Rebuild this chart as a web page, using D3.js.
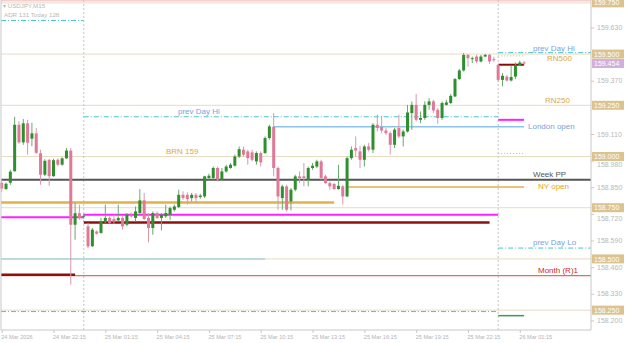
<!DOCTYPE html>
<html>
<head>
<meta charset="utf-8">
<script src="https://cdn.jsdelivr.net/npm/d3@7"></script>
<style>
  body { margin: 0; background: #fff; }
  svg { display: block; font-family: "Liberation Sans", Arial, sans-serif; }
</style>
</head>
<body>
<svg id="chart" width="625" height="343"></svg>
<script>
// USDJPY M15, bar 0 = 24 Mar 19:15
const opens = [
  158.872,158.841,158.872,158.928,159.155,159.069,159.162,159.087,159.113,159.016,
  158.911,158.984,158.904,158.984,158.960,158.991,159.029,158.667,158.723,158.706,
  158.659,158.562,158.634,158.627,158.683,158.700,158.695,158.688,158.700,158.667,
  158.716,158.700,158.724,158.786,158.700,158.651,158.724,158.700,158.708,158.716,
  158.740,158.753,158.813,158.813,158.797,158.813,158.802,158.805,158.895,158.895,
  158.944,158.887,158.927,158.944,158.955,159.000,159.033,159.025,159.020,158.976,
  159.017,159.017,159.090,159.145,158.944,158.797,158.854,158.781,158.838,158.903,
  158.903,158.887,158.944,158.951,158.976,158.903,158.870,158.866,158.841,158.854,
  158.805,158.992,159.041,159.025,158.984,159.049,159.033,159.155,159.144,159.127,
  159.114,159.057,159.139,159.098,159.122,159.212,159.252,159.179,159.188,159.252,
  159.269,159.228,159.188,159.252,159.261,159.293,159.378,159.420,159.496,159.475,
  159.488,159.464,159.488,159.496,159.475,159.447,159.374,159.390,159.371,159.390,
  159.447,159.459
];
const highs = [
  158.887,158.873,158.935,159.194,159.172,159.183,159.179,159.165,159.139,159.033,
  158.987,158.987,158.989,158.991,158.996,159.041,159.041,158.772,158.765,158.721,
  158.675,158.651,158.639,158.700,158.765,158.708,158.716,158.765,158.708,158.724,
  158.726,158.756,158.841,158.822,158.724,158.732,158.732,158.724,158.765,158.756,
  158.765,158.838,158.830,158.825,158.822,158.822,158.818,158.906,158.916,158.951,
  158.951,158.944,158.960,158.968,159.009,159.049,159.049,159.033,159.033,159.025,
  159.025,159.098,159.155,159.212,158.951,158.862,158.862,158.846,158.911,158.927,
  158.968,158.951,158.968,158.984,158.984,158.911,158.878,158.870,158.960,158.862,
  159.000,159.049,159.098,159.052,159.057,159.066,159.163,159.204,159.199,159.139,
  159.122,159.139,159.204,159.131,159.252,159.269,159.306,159.220,159.269,159.285,
  159.277,159.236,159.269,159.277,159.305,159.383,159.427,159.505,159.501,159.488,
  159.496,159.496,159.501,159.501,159.487,159.452,159.407,159.399,159.443,159.459,
  159.468,159.467
];
const lows = [
  158.828,158.838,158.862,158.926,159.062,159.057,159.009,159.050,159.013,158.862,
  158.904,158.857,158.901,158.952,158.955,158.989,158.374,158.594,158.691,158.696,
  158.553,158.558,158.618,158.623,158.675,158.672,158.672,158.683,158.643,158.659,
  158.701,158.683,158.721,158.691,158.581,158.618,158.695,158.639,158.700,158.691,
  158.732,158.749,158.789,158.765,158.781,158.773,158.794,158.797,158.887,158.887,
  158.878,158.882,158.921,158.940,158.951,158.992,159.000,158.960,158.976,158.960,
  158.951,159.013,159.082,158.903,158.740,158.740,158.732,158.737,158.830,158.870,
  158.854,158.854,158.935,158.944,158.887,158.867,158.838,158.838,158.838,158.765,
  158.802,158.984,159.000,158.944,158.951,159.025,159.017,159.122,159.114,159.106,
  159.009,159.041,159.090,159.049,159.117,159.130,159.171,159.163,159.179,159.228,
  159.212,159.160,159.179,159.248,159.257,159.290,159.374,159.415,159.439,159.456,
  159.456,159.459,159.485,159.452,159.462,159.366,159.342,159.366,159.366,159.378,
  159.443,159.447
];
const closes = [
  158.843,158.867,158.926,159.155,159.069,159.162,159.067,159.113,159.018,158.911,
  158.979,158.904,158.982,158.960,158.991,159.029,158.667,158.723,158.700,158.711,
  158.561,158.643,158.623,158.683,158.700,158.675,158.683,158.700,158.659,158.716,
  158.708,158.732,158.786,158.695,158.651,158.724,158.700,158.716,158.724,158.748,
  158.756,158.813,158.797,158.792,158.813,158.797,158.809,158.903,158.906,158.944,
  158.887,158.927,158.951,158.960,159.000,159.036,159.009,158.992,158.984,159.017,
  158.971,159.090,159.147,158.944,158.805,158.854,158.740,158.838,158.903,158.895,
  158.895,158.944,158.955,158.976,158.895,158.870,158.854,158.841,158.857,158.805,
  158.992,159.033,159.029,158.984,159.049,159.033,159.155,159.139,159.127,159.114,
  159.057,159.131,159.098,159.122,159.215,159.252,159.179,159.188,159.252,159.269,
  159.225,159.188,159.261,159.264,159.296,159.378,159.420,159.496,159.480,159.480,
  159.464,159.488,159.496,159.464,159.472,159.374,159.394,159.371,159.388,159.447,
  159.459,159.454
];

const timeTickBars = [0, 12, 24, 36, 48, 60, 72, 84, 96, 108, 120];
const timeTickLabels = ["24 Mar 2026", "24 Mar 22:15", "25 Mar 01:15", "25 Mar 04:15",
  "25 Mar 07:15", "25 Mar 10:15", "25 Mar 13:15", "25 Mar 16:15", "25 Mar 19:15",
  "25 Mar 22:15", "26 Mar 01:15"];
const daySeparators = [19, 115];

// grey scale labels that are not covered by a highlighted box
const priceTicks = [159.63, 159.37, 159.11, 158.98, 158.85, 158.72,
  158.59, 158.46, 158.33, 158.2];
const roundNumbers = [159.75, 159.5, 159.25, 159.0, 158.75, 158.5, 158.25];
const lastPrice = 159.454;

// level lines: price, first bar, last bar (null = chart edge)
const levels = [
  { kind: "topPink",   price: 159.760, from: null, to: null },
  { kind: "prevDayHi", price: 159.664, from: null, to: 19 },
  { kind: "prevDayHi", price: 159.194, from: 19, to: 115 },
  { kind: "prevDayHi", price: 159.507, from: 115, to: null, label: "prev Day Hi" },
  { kind: "dotGrey",   price: 159.491, from: 115, to: 121 },
  { kind: "dayOpen",   price: 159.448, from: 115, to: 121 },
  { kind: "magenta",   price: 159.179, from: 115, to: 121 },
  { kind: "london",    price: 159.145, from: 63, to: 121, label: "London open" },
  { kind: "dotGrey",   price: 159.015, from: 115, to: 121 },
  { kind: "weekPP",    price: 158.887, from: null, to: null, label: "Week PP" },
  { kind: "nyOpen",    price: 158.851, from: 80, to: 121, label: "NY open" },
  { kind: "goldThick", price: 158.776, from: null, to: 77 },
  { kind: "magenta",   price: 158.704, from: null, to: 19 },
  { kind: "magenta",   price: 158.716, from: 19, to: 115 },
  { kind: "maroon",    price: 158.678, from: 19, to: 113 },
  { kind: "prevDayLo", price: 158.553, from: 115, to: null, label: "prev Day Lo" },
  { kind: "paleTeal",  price: 158.500, from: null, to: 61 },
  { kind: "monthR1",   price: 158.418, from: null, to: null, label: "Month (R)1" },
  { kind: "maroon",    price: 158.423, from: null, to: 17 },
  { kind: "prevDayHi", price: 158.243, from: null, to: 115 },
  { kind: "green",     price: 158.223, from: 115, to: 121 }
];
const roundLabels = [
  { text: "RN500", price: 159.5, below: true },
  { text: "RN250", price: 159.25, below: false },
  { text: "BRN 159", price: 159.0, below: false }
];

// ---- styles / layout ----
const W = 625, H = 343;
const plot = { left: 1, right: 591, top: 0, bottom: 330 };
const levelStyle = {
  topPink:   { stroke: "#f2b8bc", width: 1 },
  prevDayHi: { stroke: "#48c4c8", width: 1, dash: "5,2,1,2" },
  prevDayLo: { stroke: "#48c4c8", width: 1, dash: "5,2,1,2" },
  dotGrey:   { stroke: "#b8b8b8", width: 1, dash: "1,2" },
  dayOpen:   { stroke: "#8b0a0a", width: 2 },
  magenta:   { stroke: "#ff20ff", width: 2 },
  london:    { stroke: "#8cc4e8", width: 1.5 },
  weekPP:    { stroke: "#555555", width: 2 },
  nyOpen:    { stroke: "#e2b048", width: 1.5 },
  goldThick: { stroke: "#e2b048", width: 2.5 },
  maroon:    { stroke: "#8b1010", width: 2.5 },
  paleTeal:  { stroke: "#a8d4d4", width: 1.5 },
  monthR1:   { stroke: "#d84848", width: 1 },
  green:     { stroke: "#3a9a5a", width: 1.5 }
};
const labelStyle = {
  prevDayHi: { fill: "#7b9fe0", x: 533, dy: -2 },
  prevDayLo: { fill: "#7b9fe0", x: 533, dy: -3 },
  london:    { fill: "#7b9fe0", x: 528, dy: 2.5 },
  weekPP:    { fill: "#555555", x: 533, dy: -2.5 },
  nyOpen:    { fill: "#e0a828", x: 538, dy: 2 },
  monthR1:   { fill: "#d02828", x: 538, dy: -2.5 }
};

const svg = d3.select("#chart");
svg.append("rect").attr("width", W).attr("height", H).attr("fill", "#fff");

const x = d3.scaleLinear().domain([0, 136.5]).range([1.7, 591]);
const y = d3.scaleLinear().domain([158.153, 159.764]).range([330, 0]);
const xOf = (b, edge) => (b === null ? edge : x(b));

const g = svg.append("g");

// round number lines
g.selectAll(".rn").data(roundNumbers).join("line")
  .attr("x1", plot.left).attr("x2", plot.right)
  .attr("y1", d => y(d)).attr("y2", d => y(d))
  .attr("stroke", "#e6dcc2").attr("stroke-width", 1);

// day separators
g.selectAll(".sep").data(daySeparators).join("line")
  .attr("x1", d => x(d)).attr("x2", d => x(d))
  .attr("y1", plot.top).attr("y2", plot.bottom)
  .attr("stroke", "#c4c4c4").attr("stroke-dasharray", "2,2");

// level lines
levels.forEach(l => {
  const s = levelStyle[l.kind];
  g.append("line")
    .attr("x1", xOf(l.from, plot.left)).attr("x2", xOf(l.to, plot.right))
    .attr("y1", y(l.price)).attr("y2", y(l.price))
    .attr("stroke", s.stroke).attr("stroke-width", s.width)
    .attr("stroke-dasharray", s.dash || null);
  if (l.label) {
    const ls = labelStyle[l.kind];
    g.append("text").attr("x", ls.x).attr("y", y(l.price) + ls.dy)
      .attr("font-size", 8).attr("fill", ls.fill).text(l.label);
  }
});

// middle prev Day Hi label
g.append("text").attr("x", 178).attr("y", y(159.194) - 3)
  .attr("font-size", 8).attr("fill", "#7b9fe0").text("prev Day Hi");

roundLabels.forEach((r, i) => {
  const xs = [547, 545, 166];
  g.append("text").attr("x", xs[i]).attr("y", y(r.price) + (r.below ? 7 : -2))
    .attr("font-size", 8).attr("fill", "#e0a838").text(r.text);
});

// candles
const bars = d3.range(opens.length).map(i => ({
  i, o: opens[i], h: highs[i], l: lows[i], c: closes[i]
}));
const up = "#2e8f2e", down = "#e07898";
const cg = g.append("g");
cg.selectAll("line").data(bars).join("line")
  .attr("x1", d => x(d.i)).attr("x2", d => x(d.i))
  .attr("y1", d => y(d.h)).attr("y2", d => y(d.l))
  .attr("stroke", d => (d.c >= d.o ? "#6aa86a" : "#d898b0")).attr("stroke-width", 1);
cg.selectAll("rect").data(bars).join("rect")
  .attr("x", d => x(d.i) - 1.5).attr("width", 3)
  .attr("y", d => y(Math.max(d.o, d.c)))
  .attr("height", d => Math.max(1, Math.abs(y(d.o) - y(d.c))))
  .attr("fill", d => (d.c >= d.o ? up : down));

// plot border
svg.append("path")
  .attr("d", `M${plot.left},${plot.top}V${plot.bottom}H${plot.right}V${plot.top}`)
  .attr("fill", "none").attr("stroke", "#c8c8c8");

// time axis
const xAxis = svg.append("g").attr("transform", `translate(0,${plot.bottom})`)
  .call(d3.axisBottom(x).tickValues(timeTickBars)
    .tickFormat((d, i) => timeTickLabels[i]).tickSize(3));
xAxis.select(".domain").remove();
xAxis.selectAll("line").attr("stroke", "#c8c8c8");
xAxis.selectAll("text").attr("text-anchor", "start").attr("dx", -1).attr("y", 5)
  .attr("font-size", 5.6).attr("fill", "#b4b4b4").attr("font-family", null);

// price axis
const yAxis = svg.append("g").attr("transform", `translate(${plot.right},0)`)
  .call(d3.axisRight(y).tickValues(priceTicks).tickFormat(d3.format(".3f")).tickSize(3));
yAxis.select(".domain").remove();
yAxis.selectAll("line").attr("stroke", "#c8c8c8");
yAxis.selectAll("text").attr("font-size", 7).attr("fill", "#b8b8b8").attr("font-family", null)
  .attr("dy", d => (d === 158.98 || d === 158.72 ? "0.9em" : "0.32em"));

// highlighted price boxes
const boxes = svg.append("g");
roundNumbers.forEach(p => {
  boxes.append("rect").attr("x", 592).attr("y", y(p) - 4.5).attr("width", 32).attr("height", 9)
    .attr("fill", "#dcc28e");
  boxes.append("text").attr("x", 594).attr("y", y(p) + 2.6).attr("font-size", 7)
    .attr("fill", "#fff").text(d3.format(".3f")(p));
});
boxes.append("rect").attr("x", 592).attr("y", y(lastPrice) - 4.5).attr("width", 32).attr("height", 9)
  .attr("fill", "#d2b0dc");
boxes.append("text").attr("x", 594).attr("y", y(lastPrice) + 2.6).attr("font-size", 7)
  .attr("fill", "#fff").text(d3.format(".3f")(lastPrice));

// header
svg.append("text").attr("x", 3).attr("y", 8).attr("font-size", 6.2).attr("fill", "#b8b8b8")
  .text("\u25BE USDJPY,M15");
svg.append("text").attr("x", 4).attr("y", 16.5).attr("font-size", 6.2).attr("fill", "#b8b8b8")
  .text("ADR 131  Today 128");
</script>
</body>
</html>
